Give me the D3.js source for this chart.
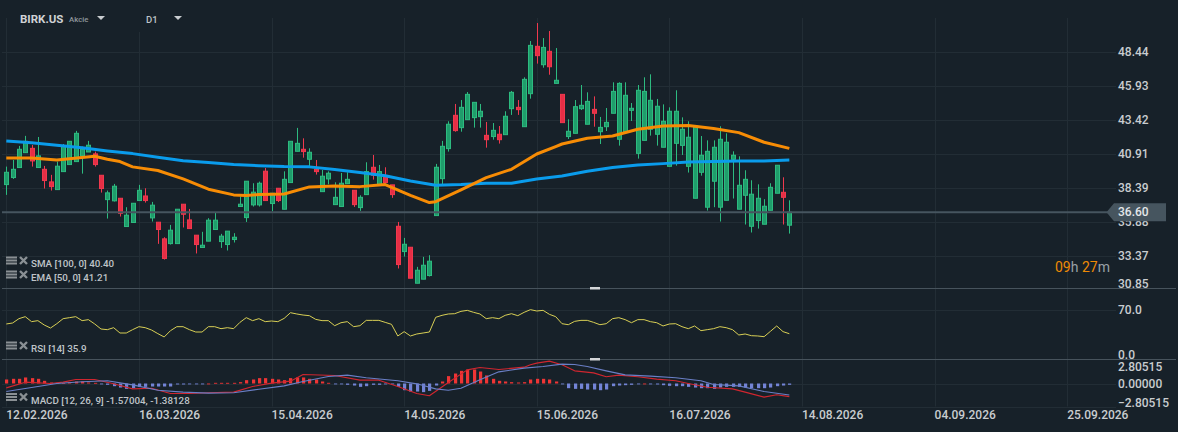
<!DOCTYPE html>
<html>
<head>
<meta charset="utf-8">
<script src="https://cdn.jsdelivr.net/npm/d3@7"></script>
<style>
  html, body { margin: 0; padding: 0; background: #172129; overflow: hidden; }
  text { font-family: Roboto, sans-serif; }
</style>
</head>
<body>
<svg id="chart" width="1178" height="432"></svg>
<script>
// candles, one entry per trading day
const open = [
  38.64,39.16,39.90,41.00,41.32,39.90,39.77,38.84,38.27,39.60,
  40.12,40.34,40.76,41.05,40.91,39.33,37.53,37.44,37.63,35.54,
  35.84,37.46,37.80,36.18,35.86,34.63,34.28,34.28,37.19,36.03,
  34.90,33.99,34.46,35.32,34.43,34.21,34.58,37.02,36.20,37.14,
  37.14,39.63,37.24,38.37,36.82,38.79,41.10,41.25,40.51,39.77,
  38.12,39.06,37.16,37.02,38.71,38.22,36.94,37.90,39.92,38.62,
  39.23,38.62,35.56,33.69,34.01,31.35,31.65,31.92,36.35,39.08,
  41.30,43.76,42.85,43.44,43.59,43.66,42.28,42.19,42.36,42.33,
  44.25,44.35,42.92,45.36,48.86,47.50,48.49,46.12,45.31,42.19,
  42.43,44.25,43.10,44.20,42.55,42.92,43.91,41.99,42.55,44.13,
  40.95,41.91,42.73,42.36,41.40,39.99,41.69,41.54,39.99,37.63,
  39.55,36.97,38.89,36.97,37.48,40.51,36.82,37.85,35.56,35.98,
  35.71,36.74,38.00,38.07,35.64];
const high = [
  39.97,40.46,41.50,42.24,41.57,42.16,40.02,39.36,40.34,41.64,
  41.84,42.61,41.45,41.87,41.08,39.33,38.20,38.69,37.63,36.97,
  37.26,38.62,38.37,37.36,35.86,34.75,35.66,36.82,37.19,36.84,
  34.90,35.15,36.16,36.57,35.00,35.20,35.05,37.76,38.89,38.74,
  38.86,39.87,38.00,38.37,39.62,41.84,42.83,42.06,41.32,40.46,
  39.72,39.62,38.81,39.50,39.55,38.22,37.85,40.29,40.83,40.09,
  39.92,38.62,35.88,34.70,34.01,32.56,33.30,33.42,40.17,41.87,
  43.32,44.60,44.89,45.48,44.72,44.60,43.27,43.19,42.97,44.06,
  45.56,44.89,46.57,49.25,50.58,49.47,49.99,48.73,45.31,43.47,
  44.89,46.00,45.46,45.16,43.64,44.30,46.20,46.20,46.20,44.67,
  46.00,46.57,46.79,44.97,44.57,44.35,45.61,43.61,43.32,42.95,
  42.23,41.91,41.91,42.95,42.43,41.10,40.73,39.70,38.96,38.66,
  37.56,38.74,40.07,39.18,37.48];
const low = [
  37.88,39.06,39.90,41.00,39.97,39.90,38.35,38.20,38.27,39.60,
  40.12,40.34,39.45,41.05,39.97,38.05,36.13,37.39,36.28,35.54,
  35.84,37.46,37.31,35.91,34.26,33.10,34.21,34.28,35.47,35.39,
  33.55,33.99,34.46,35.32,33.96,33.77,34.36,37.02,35.88,37.02,
  37.02,37.46,36.67,37.35,36.82,38.79,41.10,40.63,39.97,39.38,
  38.12,38.66,37.16,37.02,38.71,36.99,36.70,37.90,39.01,38.62,
  38.79,37.66,32.44,33.32,31.72,31.35,31.65,31.85,36.35,38.62,
  41.08,42.55,42.55,43.44,42.85,42.85,41.37,41.96,41.67,42.33,
  43.79,43.79,42.92,44.99,47.58,47.28,46.76,46.12,43.22,42.01,
  42.43,44.15,43.10,42.92,41.64,42.60,43.91,41.52,42.55,43.34,
  40.56,41.91,42.26,41.52,41.40,39.99,40.04,40.83,39.53,37.63,
  39.30,36.72,36.97,35.91,37.48,37.61,36.82,35.69,35.10,35.39,
  35.71,36.74,38.00,35.69,35.02];
const close = [
  39.55,39.77,41.25,41.84,40.39,40.76,38.94,38.49,40.00,41.45,
  41.84,42.43,41.25,41.55,40.12,38.35,38.03,38.52,36.52,36.38,
  37.26,38.22,37.46,37.12,35.32,33.18,35.27,36.82,36.45,35.39,
  34.21,34.16,36.01,36.01,34.83,35.20,34.75,37.19,38.89,38.08,
  38.74,37.46,38.00,37.46,39.03,41.84,41.69,41.08,41.03,39.60,
  39.26,39.48,37.70,38.74,39.03,37.16,37.70,39.60,39.33,39.60,
  38.79,37.90,32.73,34.23,31.72,32.31,32.68,32.98,39.92,41.47,
  43.10,42.63,44.35,45.31,44.72,44.06,41.96,42.65,41.96,43.69,
  45.46,44.18,46.42,48.93,48.17,48.78,47.35,46.35,43.22,42.58,
  44.40,44.50,44.79,43.91,42.87,43.24,45.53,46.12,45.24,44.28,
  45.61,45.53,44.87,44.43,43.32,44.06,44.06,42.73,42.14,42.95,
  40.81,41.10,41.40,41.99,41.77,40.81,38.59,39.03,37.93,37.63,
  37.04,38.44,40.07,37.70,36.60];

// moving averages, read every few bars
const smaBars = [0,4,8,12,16,20,24,28,32,36,40,44,48,52,56,60,64,68,72,76,80,84,88,92,96,100,104,108,112,116,120,124];
const smaValues = [41.87,41.74,41.55,41.37,41.13,40.93,40.66,40.41,40.27,40.12,40.04,39.97,39.95,39.75,39.53,39.30,38.91,38.59,38.64,38.74,38.74,39.06,39.28,39.62,39.90,40.09,40.19,40.31,40.34,40.39,40.39,40.46];
const emaBars = [0,4,8,12,14,16,18,20,24,28,32,36,38,40,44,48,52,56,60,64,67,68,72,76,80,84,87,88,92,96,100,104,108,112,116,120,124];
const emaValues = [40.61,40.61,40.46,40.64,40.73,40.51,40.34,39.95,39.68,39.06,38.30,37.88,37.83,37.90,37.95,38.47,38.54,38.49,38.64,37.85,37.31,37.38,38.25,39.16,39.77,40.90,41.45,41.64,42.06,42.23,42.73,42.97,43.00,42.78,42.48,41.77,41.32];

const rsiValues = [
  49.6,51.0,57.1,59.9,52.9,54.3,48.2,43.9,50.0,57.1,
  58.5,59.9,54.3,55.7,49.6,42.5,41.6,44.4,36.9,36.9,
  41.6,45.8,44.4,41.1,36.0,31.3,40.2,45.8,45.8,41.6,
  38.3,38.3,45.8,45.8,43.0,44.4,43.0,51.9,58.5,54.3,
  57.1,52.9,53.8,52.9,57.5,65.5,63.7,62.2,61.3,56.1,
  54.3,54.3,47.2,51.4,52.9,45.8,47.2,54.7,54.7,54.7,
  51.9,49.1,32.7,38.8,32.7,35.5,36.9,38.3,59.0,61.8,
  63.7,64.1,67.4,68.8,66.0,63.7,57.1,58.5,57.1,61.8,
  64.1,61.3,66.0,69.8,67.9,68.8,63.2,59.9,50.0,48.6,
  53.3,54.7,54.7,51.9,48.6,50.0,57.1,58.5,55.7,51.4,
  55.7,55.7,52.9,51.4,46.8,49.6,50.0,45.8,43.0,46.8,
  40.2,41.6,43.0,45.8,44.4,41.6,34.1,35.5,33.1,32.7,
  31.7,39.2,46.8,38.8,35.9];

const macdHist = [
  .48,.56,.56,.72,.64,.56,.32,.12,.08,.08,
  .16,.24,.24,.12,.08,-.08,-.16,-.32,-.48,-.64,
  -.56,-.40,-.40,-.36,-.36,-.36,-.36,-.12,-.12,-.08,
  -.08,-.08,0,.08,.08,.08,.08,.16,.40,.48,
  .64,.64,.56,.48,.40,.64,.72,.72,.56,.48,
  .24,.08,-.08,-.08,-.16,-.24,-.40,-.32,-.16,-.16,
  -.08,-.08,-.40,-.80,-.96,-.96,-1.03,-.88,-.24,.24,
  .88,1.19,1.51,1.67,1.67,1.43,.96,.56,.32,.24,
  .16,.12,.16,.48,.56,.56,.48,.24,-.08,-.56,
  -.64,-.64,-.72,-.72,-.80,-.72,-.32,-.24,-.20,-.16,
  -.08,0,-.08,-.12,-.20,-.28,-.32,-.32,-.40,-.48,
  -.56,-.56,-.64,-.48,-.40,-.40,-.40,-.48,-.56,-.56,
  -.56,-.48,-.32,-.24,-.16];
const macdBars = [0,3,7,9,11,14,17,20,23,26,29,32,36,39,42,45,47,52,56,59,62,65,67,70,73,75,78,82,83,84,86,88,90,93,95,97,100,103,106,108,111,115,117,120,122,124];
const macdValues = [-.52,.16,0,.16,.48,.48,-.04,-.64,-.56,-1.19,-1.19,-1.11,-1.03,-.36,.04,.28,1.07,.96,.40,.40,-.36,-1.19,-1.47,.12,1.63,1.91,1.67,1.95,2.23,2.43,2.67,2.23,1.51,1.27,.80,1.00,.80,.52,.32,0,-.44,-.64,-1.03,-1.63,-1.35,-1.57];
const signalBars = [0,4,8,12,16,20,24,28,32,36,40,44,47,51,54,57,62,65,68,70,72,75,78,82,85,88,90,92,95,98,102,106,110,112,116,120,124];
const signalValues = [-.96,-.48,0,.20,.32,-.16,-.80,-1.03,-1.15,-1.11,-.68,-.28,.24,.84,1.00,.68,.32,-.04,-.64,-.80,-.56,.44,1.39,1.83,2.03,2.31,2.27,2.03,1.51,1.03,.88,.68,.32,-.12,-.28,-.96,-1.38];

// axis labels
const priceTicks = [48.44,45.93,43.42,40.91,38.39,35.88,33.37,30.85];
const rsiTicks = [70,0];
const macdTicks = [2.80515,0,-2.80515];
const dateLabels = ["12.02.2026","16.03.2026","15.04.2026","14.05.2026","15.06.2026","16.07.2026","14.08.2026","04.09.2026","25.09.2026"];
const dateBars = [0,21,42,63,84,105,126,147,168];
const lastPrice = 36.60;

const colors = {
  grid: "#222d35", panel: "#47535c", label: "#c9cdd0", legend: "#bfc4c8",
  up: "#1f9d6b", upEdge: "#2dbb80", down: "#e62e45", downEdge: "#f0394e",
  sma: "#0a9cec", ema: "#f78c05", rsi: "#d8cf55",
  histUp: "#ee3535", histDown: "#7384d6", macd: "#d0262f", signal: "#6a7fc6",
  price: "#46555f", orange: "#ee8a05"
};

const svg = d3.select("#chart");

// scales
const x = d3.scaleLinear().domain([0, 168]).range([6.3, 1067.2]);
const xSnap = i => Math.round(x(i)) + 0.5;
const yPrice = d3.scaleLinear().domain([48.44, 30.85]).range([52, 290]);
const yRsi = d3.scaleLinear().domain([70, 0]).range([309.5, 359.2]);
const yMacd = d3.scaleLinear().domain([2.80515, -2.80515]).range([360, 407]);

// grid
const grid = svg.append("g").attr("stroke", colors.grid).attr("stroke-width", 1);
dateBars.forEach((b, k) => {
  grid.append("line")
    .attr("x1", xSnap(b)).attr("x2", xSnap(b))
    .attr("y1", k === 1 ? 32 : 18).attr("y2", 406.5);
});
[...priceTicks.slice(0, 7).map(yPrice), yRsi(70), yMacd(0), yMacd(-2.80515)].forEach(y => {
  grid.append("line")
    .attr("x1", 2).attr("x2", 1116)
    .attr("y1", Math.round(y) + 0.5).attr("y2", Math.round(y) + 0.5);
});

// candles
const bars = d3.range(close.length);
const candles = svg.append("g").selectAll("g").data(bars).enter().append("g");
candles.append("line")
  .attr("x1", xSnap).attr("x2", xSnap)
  .attr("y1", i => yPrice(high[i])).attr("y2", i => yPrice(low[i]))
  .attr("stroke", i => close[i] >= open[i] ? colors.upEdge : colors.downEdge);
candles.append("rect")
  .attr("x", i => xSnap(i) - 2)
  .attr("width", 4)
  .attr("y", i => yPrice(Math.max(open[i], close[i])))
  .attr("height", i => Math.abs(yPrice(open[i]) - yPrice(close[i])))
  .attr("fill", i => close[i] >= open[i] ? colors.up : colors.down)
  .attr("stroke", i => close[i] >= open[i] ? colors.upEdge : colors.downEdge);

// moving averages
function drawLine(barList, values, yScale, color, width) {
  svg.append("path")
    .datum(barList)
    .attr("fill", "none")
    .attr("stroke", color)
    .attr("stroke-width", width)
    .attr("stroke-linejoin", "round")
    .attr("d", d3.line().x(i => x(i)).y((i, k) => yScale(values[k])));
}
drawLine(smaBars, smaValues, yPrice, colors.sma, 3);
drawLine(emaBars, emaValues, yPrice, colors.ema, 3);

// last price line and tag
svg.append("line")
  .attr("x1", 2).attr("x2", 1110)
  .attr("y1", yPrice(lastPrice)).attr("y2", yPrice(lastPrice))
  .attr("stroke", colors.price).attr("stroke-width", 2);

// RSI
drawLine(bars, rsiValues, yRsi, colors.rsi, 1);

// MACD
svg.append("g").selectAll("rect").data(bars).enter().append("rect")
  .attr("x", i => Math.round(x(i)) - 1)
  .attr("width", 3.2)
  .attr("y", i => macdHist[i] >= 0 ? yMacd(macdHist[i]) : yMacd(0))
  .attr("height", i => Math.max(0.9, Math.abs(yMacd(macdHist[i]) - yMacd(0))))
  .attr("fill", i => macdHist[i] >= 0 ? colors.histUp : colors.histDown);
drawLine(macdBars, macdValues, yMacd, colors.macd, 1.1);
drawLine(signalBars, signalValues, yMacd, colors.signal, 1.1);

// panel separators and drag handles
[288.5, 359.5].forEach(y => {
  svg.append("line").attr("x1", 2).attr("x2", 1176).attr("y1", y).attr("y2", y)
    .attr("stroke", colors.panel);
  svg.append("rect").attr("x", 590).attr("y", y - 1.5).attr("width", 10).attr("height", 2.5)
    .attr("fill", "#d4d6d8");
});

// right axes
function rightAxis(scale, ticks, fmt, nudge) {
  const g = svg.append("g")
    .attr("transform", "translate(1118,0)")
    .call(d3.axisRight(scale).tickValues(ticks).tickFormat(fmt).tickSize(0).tickPadding(0));
  g.select(".domain").remove();
  g.selectAll("text")
    .attr("fill", colors.label)
    .attr("font-size", 12)
    .attr("font-weight", 500)
    .attr("font-family", "Roboto, sans-serif")
    .attr("dy", (d, k) => (0.32 * 12 + (nudge[k] || 0)) + "px");
  return g;
}
rightAxis(yPrice, priceTicks, d3.format(".2f"), [0, 0, 0, 0, -0.5, 0, -0.5, -6]);
rightAxis(yRsi, rsiTicks, d3.format(".1f"), [0, -4.5]);
rightAxis(yMacd, macdTicks, d3.format(".5f"), [7, 0, -4]);

// price tag, on top of the 35.88 label
const tagY = yPrice(lastPrice);
svg.append("path")
  .attr("d", `M1106.5,${tagY} L1114,${tagY - 9} H1166 V${tagY + 9} H1114 Z`)
  .attr("fill", colors.price);
svg.append("text").attr("x", 1118).attr("y", tagY + 4.2)
  .attr("fill", "#e4e7e9").attr("font-size", 12).attr("font-weight", 500)
  .text(d3.format(".2f")(lastPrice));

// date axis
svg.append("g").selectAll("text").data(dateLabels).enter().append("text")
  .attr("x", (d, k) => x(dateBars[k]))
  .attr("y", 418.5)
  .attr("fill", colors.label)
  .attr("font-size", 12)
  .attr("font-weight", 500)
  .text(d => d);

// countdown
const timer = svg.append("text").attr("x", 1055).attr("y", 272).attr("font-size", 14).attr("fill", "#9aa1a6");
[["09", colors.orange], ["h ", null], ["27", colors.orange], ["m", null]].forEach(p => {
  const s = timer.append("tspan").text(p[0]).attr("xml:space", "preserve");
  if (p[1]) s.attr("fill", p[1]);
});

// header
svg.append("text").attr("x", 20).attr("y", 22.5).attr("font-size", 11.5).attr("font-weight", 700)
  .attr("fill", "#cfd2d5").text("BIRK.US");
svg.append("text").attr("x", 69).attr("y", 22).attr("font-size", 7.8).attr("font-weight", 500)
  .attr("fill", "#8e969c").text("Akcie");
svg.append("text").attr("x", 146).attr("y", 22.5).attr("font-size", 9.5).attr("font-weight", 500)
  .attr("fill", "#bfc4c8").text("D1");
[[101, 16], [178, 16]].forEach(c => {
  svg.append("path")
    .attr("d", `M${c[0] - 4},${c[1]} h8 l-4,4 Z`)
    .attr("fill", "#c9cdd0");
});

// indicator legends with their small icons
const legends = [
  ["SMA [100, 0] 40.40", 263],
  ["EMA [50, 0] 41.21", 277],
  ["RSI [14] 35.9", 348],
  ["MACD [12, 26, 9] -1.57004, -1.38128", 399.5]
];
legends.forEach(l => {
  const y = l[1];
  const icon = svg.append("g").attr("fill", "#8a9094");
  [-6.5, -3.5, -0.5].forEach(dy => {
    icon.append("rect").attr("x", 6).attr("y", y + dy).attr("width", 11).attr("height", 2);
  });
  svg.append("path")
    .attr("d", `M20,${y - 6} L27,${y + 1} M27,${y - 6} L20,${y + 1}`)
    .attr("stroke", "#8a9094").attr("stroke-width", 2.4);
  svg.append("text").attr("x", 31).attr("y", y + 4)
    .attr("font-size", 9.8).attr("font-weight", 500)
    .attr("fill", colors.legend).text(l[0]);
});
</script>
</body>
</html>
